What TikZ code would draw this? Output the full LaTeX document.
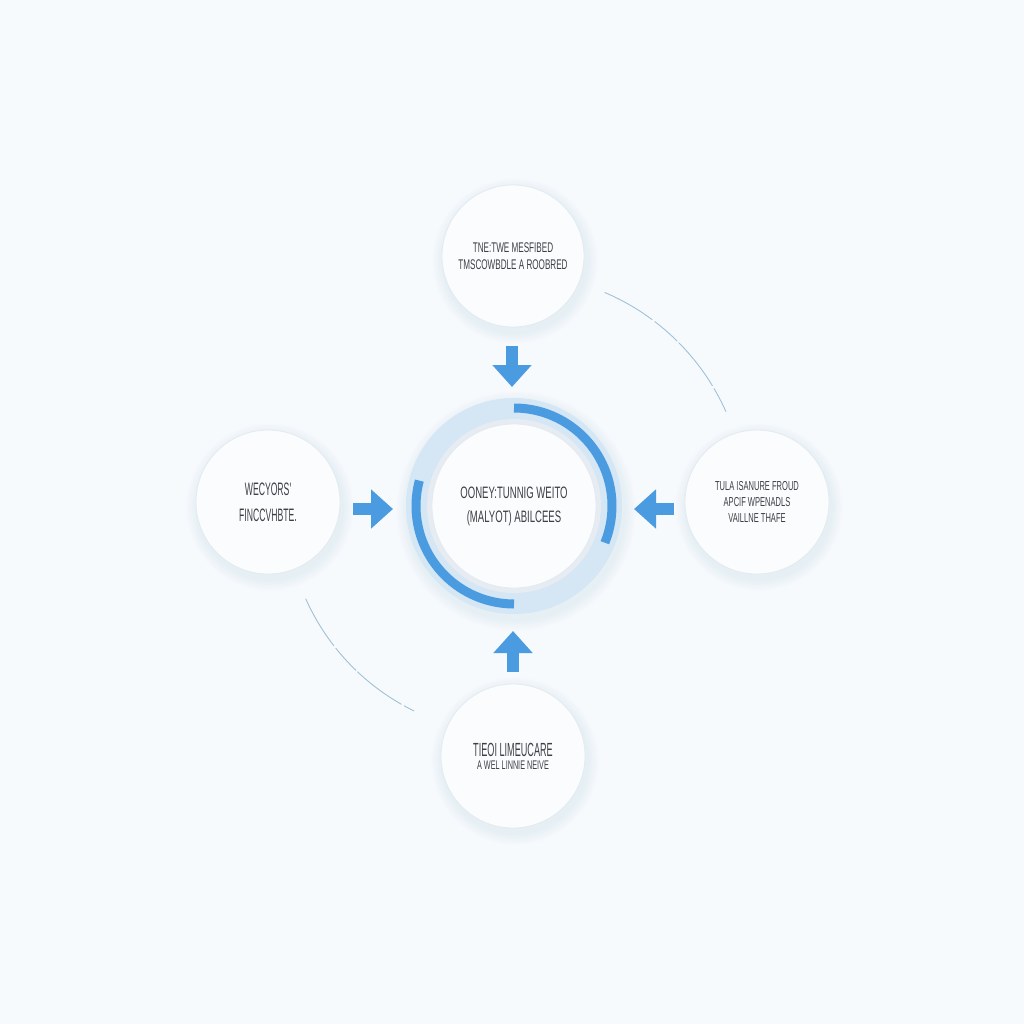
\documentclass[tikz,border=0pt]{standalone}
\usepackage{fontspec}
\usetikzlibrary{arrows.meta}
\newfontfamily\condA[FakeStretch=0.58]{Liberation Sans}
\newfontfamily\condB[FakeStretch=0.48]{Liberation Sans}
\definecolor{bg}{HTML}{F7FAFD}
\definecolor{arrowblue}{HTML}{4A9BDF}
\definecolor{ringlight}{HTML}{D5E6F5}
\definecolor{ringgloss}{HTML}{E6ECF2}
\definecolor{txt}{HTML}{3C3F44}
\definecolor{edge}{HTML}{E3EAF1}
\definecolor{bubblefill}{HTML}{FBFCFE}
\definecolor{glow}{HTML}{B3CDE5}
\definecolor{faint}{HTML}{6FA3C2}
\begin{document}
\begin{tikzpicture}[x=1pt,y=-1pt,
  bubble/.style={circle, minimum size=#1, inner sep=0pt, fill=bubblefill, draw=edge, line width=0.8pt, text=txt, align=center},
  blockarrow/.style={draw=arrowblue, line width=12pt, -{Triangle[length=22pt,width=38pt,fill=arrowblue]}},
  faintarc/.style={draw=faint, line width=0.9pt, opacity=0.65, dash pattern=on 55pt off 3pt on 30pt off 2pt}
]
\useasboundingbox (0,0) rectangle (1024,1024);
\fill[bg] (0,0) rectangle (1024,1024);

% soft shadows
\foreach \cx/\cy/\r in {513/256/71, 268/502/72, 757/502/72, 513/756/72, 514/506/108}{
  \foreach \k in {1,...,9}{
    \fill[glow, opacity=0.022] (\cx+2,\cy+5) circle ({\r+\k*1.3});
  }
}

% faint guide arcs
\coordinate (C) at (514,506);
\draw[faintarc] ([shift={(-67:232)}]C) arc[start angle=-67, end angle=-24, radius=232];
\draw[faintarc] ([shift={(-204:228)}]C) arc[start angle=-204, end angle=-244, radius=228];

% central ring
\fill[ringlight] (C) circle (108);
\fill[ringgloss] (C) circle (87);
\draw[arrowblue, line width=9pt] ([shift={(-90:98)}]C) arc[start angle=-90, end angle=22, radius=98];
\draw[arrowblue, line width=9pt] ([shift={(-165:98)}]C) arc[start angle=-165, end angle=-270, radius=98];

% nodes
\node[bubble=164pt, font=\condA\fontsize{16.5}{24}\selectfont] (core) at (514,506)
  {OONEY:TUNNIG WEITO\\(MALYOT) ABILCEES};
\node[bubble=142pt, font=\condA\fontsize{14}{17}\selectfont] (top) at (513,256)
  {TNE:TWE MESFIBED\\TMSCOWBDLE A ROOBRED};
\node[bubble=144pt, font=\condB\fontsize{18}{26}\selectfont] (left) at (268,502)
  {WECYORS'\\FINCCVHBTE.};
\node[bubble=144pt, font=\condA\fontsize{13}{16}\selectfont] (right) at (757,502)
  {TULA ISANURE FROUD\\APCIF WPENADLS\\VAILLNE THAFE};
\node[bubble=144pt, font=\condB] (bottom) at (513,756)
  {{\condB\fontsize{19}{22}\selectfont TIEOI LIMEUCARE}\\[1pt]{\condA\fontsize{12.5}{15}\selectfont A WEL LINNIE NEIVE}};

% arrow endpoints
\coordinate (t1) at (512,346);
\coordinate (t2) at (512,387);
\coordinate (l1) at (353,509);
\coordinate (l2) at (393,509);
\coordinate (r1) at (674,509);
\coordinate (r2) at (634,509);
\coordinate (b1) at (513,672);
\coordinate (b2) at (513,631);

\draw[blockarrow] (t1) -- (t2);
\draw[blockarrow] (l1) -- (l2);
\draw[blockarrow] (r1) -- (r2);
\draw[blockarrow] (b1) -- (b2);
\end{tikzpicture}
\end{document}
